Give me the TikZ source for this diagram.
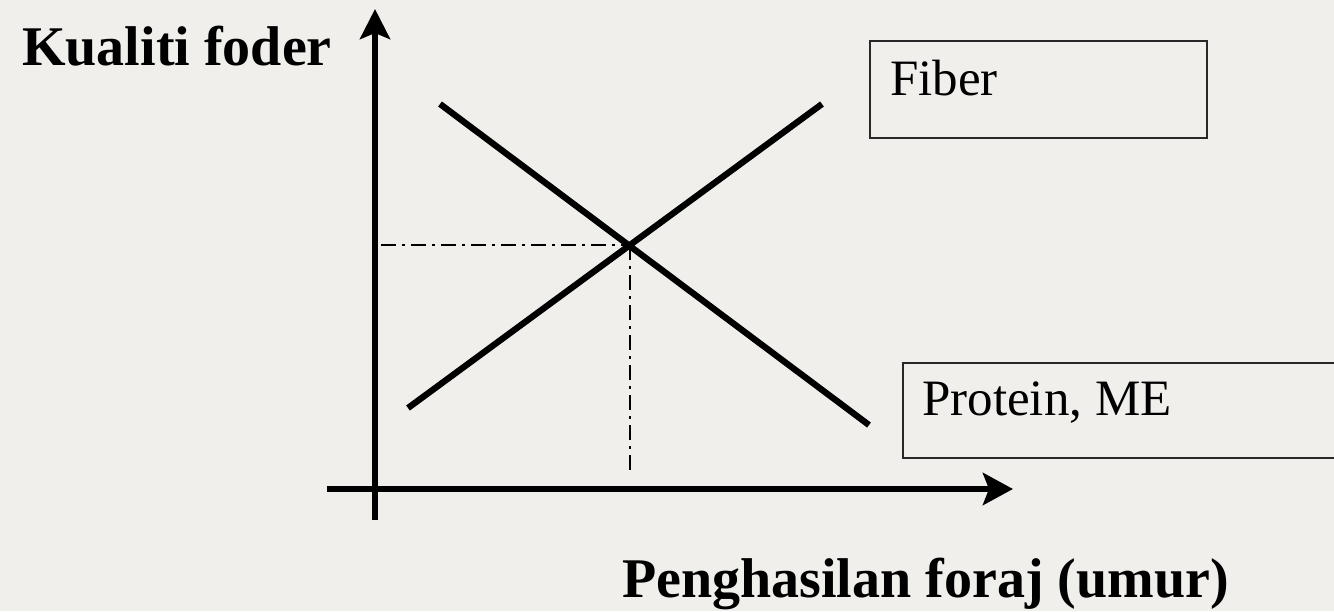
\documentclass[tikz,border=0pt]{standalone}
\usepackage{fontspec}
\setmainfont{Liberation Serif}
\usetikzlibrary{arrows.meta}
\definecolor{bgcol}{RGB}{240,239,236}
\definecolor{boxline}{RGB}{40,40,40}
\begin{document}
\begin{tikzpicture}[x=1pt,y=-1pt,
  axis/.style={line width=6.3pt,black},
  curve/.style={line width=6.3pt,black},
  guide/.style={line width=1.3pt,black,dash pattern=on 15pt off 6pt on 3pt off 6pt},
  labelbox/.style={draw=boxline,line width=1.5pt,rectangle,inner sep=0pt,anchor=north west},
  boxtext/.style={anchor=base west,inner sep=0pt,font=\fontsize{51}{61}\selectfont},
  axistext/.style={anchor=base west,inner sep=0pt,font=\fontsize{56}{67}\selectfont\bfseries}]
\fill[bgcol] (0,0) rectangle (1334,611);
\useasboundingbox (0,0) rectangle (1334,611);
% axes
\coordinate (yb) at (375,520);
\coordinate (yt) at (375,9);
\coordinate (xl) at (327,489);
\coordinate (xr) at (1013,489);
\draw[axis,-{Stealth[length=30pt,width=30pt,inset=6pt]}] (yb) -- (yt);
\draw[axis,-{Stealth[length=30pt,width=32pt,inset=6pt]}] (xl) -- (xr);
% lines
\coordinate (fa) at (408,408);
\coordinate (fb) at (822,104);
\coordinate (pa) at (440,104);
\coordinate (pb) at (869,425);
\draw[curve] (fa) -- (fb);
\draw[curve] (pa) -- (pb);
\coordinate (cross) at (intersection of fa--fb and pa--pb);
\coordinate (hl) at (381,245);
\coordinate (vb) at (630,473);
\draw[guide] (hl) -- (hl -| cross);
\draw[guide] (630,245) -- (vb);
% boxes
\node[labelbox,minimum width=337pt,minimum height=97pt] (fiberbox) at (869,40) {};
\node[boxtext] (fiber) at (890,95) {Fiber};
\node[labelbox,minimum width=450pt,minimum height=95pt] (protbox) at (902,362) {};
\node[boxtext] (prot) at (922,415) {Protein, ME};
% axis labels
\node[axistext] (ylab) at (22,65) {Kualiti foder};
\node[axistext] (xlab) at (622,597) {Penghasilan foraj (umur)};
\end{tikzpicture}
\end{document}
